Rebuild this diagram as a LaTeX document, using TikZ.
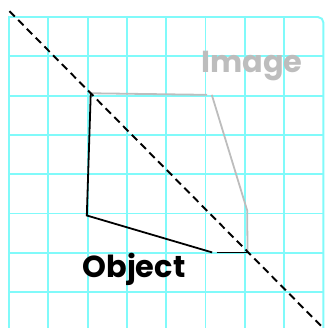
\documentclass[tikz,border=0pt]{standalone}
\usepackage{fontspec}
\setmainfont{Poppins}
\usepackage{tikz}
\usetikzlibrary{positioning, calc}
\definecolor{gridcyan}{HTML}{80FAFA}
\definecolor{imagegray}{HTML}{BDBDBD}

\begin{document}
\begin{tikzpicture}[font=\bfseries\fontsize{22}{22}\selectfont]
    \tikzset{
        gridline/.style={gridcyan, line width=1.4pt},
        objline/.style={black, line width=1.3pt},
        imgline/.style={imagegray, line width=1.3pt},
        mirror/.style={black, line width=1.4pt, dash pattern=on 5.5pt off 3.5pt}
    }
    \clip (-0.229, 0.433) rectangle (8.117, -7.888);

    % ── Grid paper ───────────────────────────────────────────────────
    \foreach \i in {1,...,7}{
        \draw[gridline] (\i, 0) -- (\i, -8.3);
        \draw[gridline] (0, -\i) -- (8, -\i);
    }
    \draw[gridline] (0, -8.3) -- (0, 0) -- (7, 0);
    \draw[gridline, rounded corners=4pt] (6.9, 0) -- (8, 0) -- (8, -8.3);

    % ── Vertices ─────────────────────────────────────────────────────
    \coordinate (apex) at (2.08, -1.94);
    \coordinate (objlow) at (1.98, -5.05);
    \coordinate (objbase) at (5.17, -5.99);
    \coordinate (objfoot) at (5.28, -5.99);
    \coordinate (meet) at (6.07, -5.99);
    \coordinate (imgtop) at (5.04, -1.98);
    \coordinate (imgslant) at (5.16, -1.98);
    \coordinate (imgside) at (6.06, -4.92);
    \coordinate (mirA) at (0.01, 0.15);
    \coordinate (mirB) at (7.96, -7.88);

    % ── Image (reflected) ────────────────────────────────────────────
    \draw[imgline] (apex) -- (imgtop);
    \draw[imgline] (imgslant) -- (imgside) -- (meet);
    \node[imagegray, anchor=base] (imglabel) at (6.18, -1.40) {Image};

    % ── Object ───────────────────────────────────────────────────────
    \draw[objline] (apex) -- (objlow) -- (objbase);
    \draw[objline] (objfoot) -- (meet);
    \node[anchor=base] (objlabel) at (3.18, -6.62) {Object};

    % Mirror line
    \draw[mirror] (mirA) -- (mirB);
\end{tikzpicture}
\end{document}
